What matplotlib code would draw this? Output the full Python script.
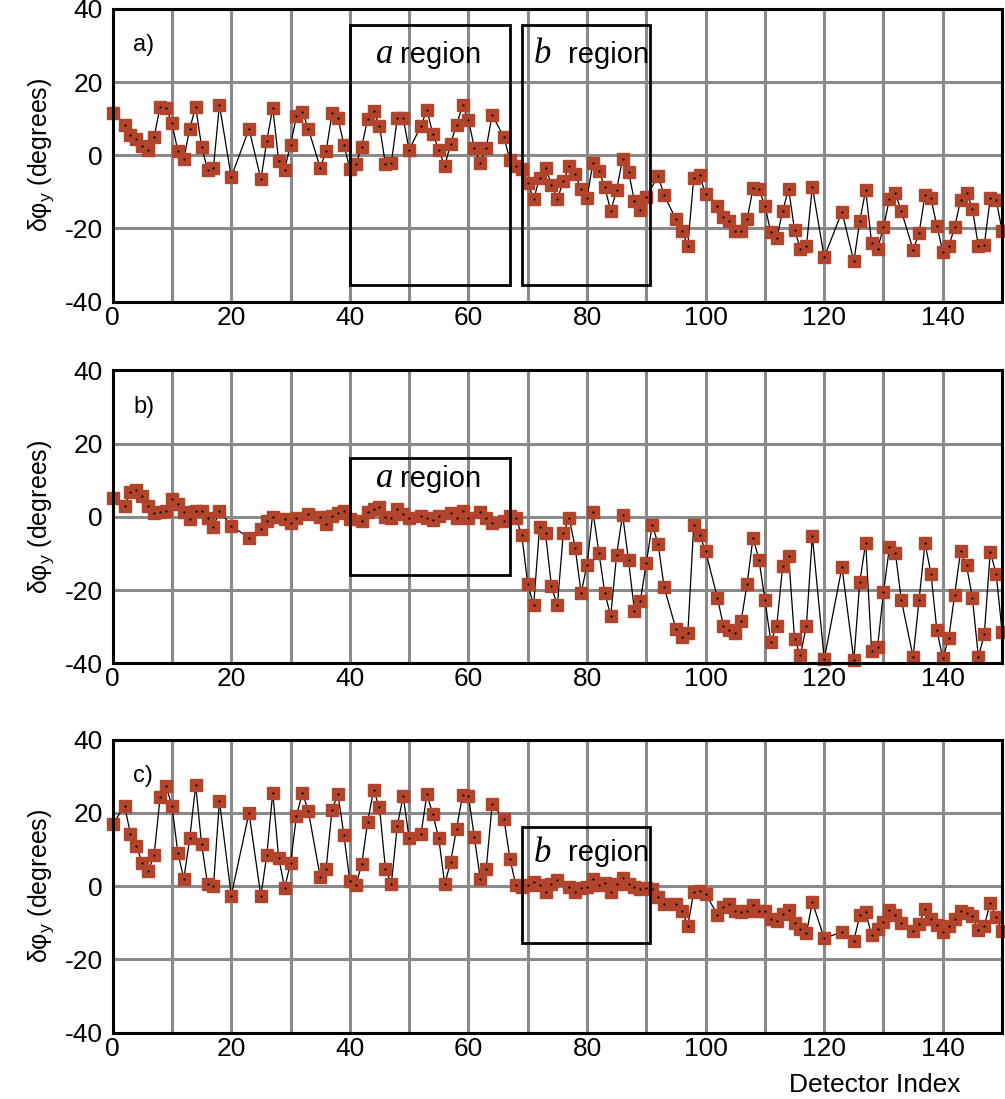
import numpy as np
import matplotlib.pyplot as plt

plt.rcParams['font.family'] = ['Liberation Sans', 'DejaVu Sans']
plt.rcParams['axes.unicode_minus'] = False

# detector index / phase error, panel a)
xa = [0, 2, 3, 4, 5, 6, 7, 8, 9, 10, 11, 12, 13, 14, 15, 16, 17, 18, 20, 23,
      25, 26, 27, 28, 29, 30, 31, 32, 33, 35, 36, 37, 38, 39, 40, 41, 42, 43, 44, 45,
      46, 47, 48, 49, 50, 52, 53, 54, 55, 56, 57, 58, 59, 60, 61, 62, 63, 64, 66, 67,
      68, 69, 70, 71, 72, 73, 74, 75, 76, 77, 78, 79, 80, 81, 82, 83, 84, 85, 86, 87,
      88, 89, 90, 92, 93, 95, 96, 97, 98, 99, 100, 102, 103, 104, 105, 106, 107, 108, 109, 110,
      111, 112, 113, 114, 115, 116, 117, 118, 120, 123, 125, 126, 127, 128, 129, 130, 131, 132, 133, 135,
      136, 137, 138, 139, 140, 141, 142, 143, 144, 145, 146, 147, 148, 149, 150]
ya = [11.5, 8.3, 5.6, 4.3, 2.4, 1.4, 5.0, 13.3, 12.9, 8.8, 1.1, -1.0, 7.2, 13.3, 2.3, -3.9, -3.4, 13.8, -6.0, 7.2,
      -6.6, 4.0, 12.9, -1.6, -3.9, 2.9, 10.6, 11.9, 7.2, -3.4, 1.1, 11.5, 10.1, 2.9, -3.7, -2.5, 2.3, 9.9, 12.1, 8.1,
      -2.4, -2.1, 10.1, 10.1, 1.4, 8.1, 12.4, 5.8, 1.5, -3.0, 3.2, 8.3, 13.6, 9.7, 2.0, -2.1, 2.0, 11.0, 4.9, -1.4,
      -3.0, -3.7, -7.5, -12.0, -6.2, -3.4, -8.0, -12.0, -7.1, -3.0, -5.2, -9.3, -11.6, -2.1, -4.3, -8.7, -15.2, -9.5, -0.9, -4.5,
      -12.5, -14.9, -11.3, -5.7, -10.9, -17.5, -20.6, -24.7, -6.2, -5.4, -10.7, -13.8, -17.0, -17.9, -20.6, -20.6, -17.5, -9.0, -9.3, -13.8,
      -21.1, -22.7, -15.2, -9.2, -20.4, -25.6, -24.9, -8.6, -27.9, -15.4, -29.0, -17.9, -9.5, -24.0, -25.6, -19.7, -11.9, -10.4, -15.2, -25.8,
      -21.3, -10.9, -11.8, -19.3, -26.3, -24.9, -19.7, -12.2, -10.2, -14.6, -24.9, -24.5, -11.8, -12.2, -20.6]

# panel b)
xb = [0, 2, 3, 4, 5, 6, 7, 8, 9, 10, 11, 12, 13, 14, 15, 16, 17, 18, 20, 23,
      25, 26, 27, 29, 30, 31, 33, 35, 36, 37, 38, 39, 40, 42, 43, 44, 45, 46, 47, 48,
      49, 50, 52, 53, 54, 55, 57, 58, 59, 60, 62, 63, 64, 66, 67, 68, 69, 70, 71, 72,
      73, 74, 75, 76, 77, 78, 79, 80, 81, 82, 83, 84, 85, 86, 87, 88, 89, 90, 91, 92,
      93, 95, 96, 97, 98, 99, 100, 102, 103, 104, 105, 106, 107, 108, 109, 110, 111, 112, 113, 114,
      115, 116, 117, 118, 120, 123, 125, 126, 127, 128, 129, 130, 131, 132, 133, 135, 136, 137, 138, 139,
      140, 141, 142, 143, 144, 145, 146, 147, 148, 149, 150]
yb = [5.0, 3.0, 6.7, 7.2, 5.8, 3.0, 1.0, 1.2, 1.7, 4.9, 3.5, 1.2, -0.6, 1.7, 1.7, -0.2, -2.9, 1.7, -2.5, -5.7,
      -3.4, -1.1, 0.0, -0.6, -1.6, -0.4, 0.7, 0.0, -2.0, 0.3, 1.0, 1.7, -0.6, -1.1, 1.2, 2.1, 2.6, 0.0, -0.2, 2.1,
      0.7, -0.4, 0.3, -0.2, -0.8, 0.3, 1.0, -0.2, 1.7, -0.4, 1.4, -0.2, -1.8, -1.1, 0.3, -0.2, -5.0, -18.3, -24.2, -2.7,
      -4.5, -19.0, -24.2, -4.5, -0.4, -8.4, -20.8, -13.2, 1.4, -9.8, -20.8, -27.0, -10.3, 0.6, -11.9, -25.7, -22.9, -12.6, -2.2, -7.5,
      -19.2, -30.6, -32.8, -31.8, -2.2, -5.0, -9.4, -22.2, -29.7, -30.9, -31.8, -28.4, -18.3, -5.7, -11.7, -22.7, -34.1, -29.7, -13.5, -10.7,
      -33.4, -37.8, -29.7, -5.2, -38.9, -13.7, -39.2, -17.8, -7.1, -36.7, -35.5, -20.6, -8.3, -9.8, -22.7, -38.3, -22.7, -7.1, -15.5, -30.9,
      -38.7, -33.2, -21.3, -9.4, -13.3, -22.2, -38.3, -32.1, -9.6, -15.5, -31.4]

# panel c)
xc = [0, 2, 3, 4, 5, 6, 7, 8, 9, 10, 11, 12, 13, 14, 15, 16, 17, 18, 20, 23,
      25, 26, 27, 28, 29, 30, 31, 32, 33, 35, 36, 37, 38, 39, 40, 41, 42, 43, 44, 45,
      46, 47, 48, 49, 50, 52, 53, 54, 55, 56, 57, 58, 59, 60, 61, 62, 63, 64, 66, 67,
      68, 69, 70, 71, 72, 73, 74, 75, 77, 78, 79, 80, 81, 82, 83, 84, 85, 86, 87, 88,
      89, 90, 91, 92, 93, 95, 96, 97, 98, 99, 100, 102, 103, 104, 105, 106, 107, 108, 109, 110,
      111, 112, 113, 114, 115, 116, 117, 118, 120, 123, 125, 126, 127, 128, 129, 130, 131, 132, 133, 135,
      136, 137, 138, 139, 140, 141, 142, 143, 144, 145, 146, 147, 148, 149, 150]
yc = [16.9, 21.9, 14.3, 10.9, 6.3, 4.1, 8.6, 24.2, 27.4, 21.8, 9.0, 2.0, 13.0, 27.6, 11.4, 0.6, -0.1, 23.3, -2.6, 20.0,
      -2.8, 8.6, 25.5, 7.8, -0.5, 6.3, 19.1, 25.5, 20.5, 2.5, 4.7, 20.9, 25.1, 13.9, 1.4, 0.2, 5.9, 17.5, 26.2, 21.5,
      4.7, 0.6, 16.4, 24.6, 13.0, 14.2, 25.1, 19.6, 13.0, 0.5, 6.6, 15.7, 24.8, 24.6, 13.4, 2.0, 4.7, 22.4, 18.2, 7.5,
      0.2, -0.3, 0.2, 1.1, 0.2, -1.5, 0.5, 1.6, -0.3, -1.6, -0.5, -0.3, 2.0, 0.2, 0.8, -1.6, 0.6, 2.2, 0.6, -0.3,
      -0.7, -0.5, -0.7, -3.0, -4.8, -5.0, -6.7, -10.8, -1.6, -1.4, -2.1, -7.8, -5.6, -5.0, -6.7, -7.1, -6.7, -5.3, -6.7, -6.7,
      -8.9, -9.6, -7.6, -6.5, -10.1, -11.7, -12.9, -4.4, -14.2, -12.6, -14.9, -8.0, -7.1, -13.5, -11.7, -9.9, -6.5, -7.8, -10.1, -12.3,
      -10.3, -6.2, -8.9, -10.5, -12.6, -10.8, -8.9, -6.7, -7.4, -8.3, -12.0, -10.8, -4.7, -8.5, -12.3]

panels = ['a)', 'b)', 'c)']
series = [(xa, ya), (xb, yb), (xc, yc)]
# (letter, x0, x1, y0, y1) for the boxed regions of each panel
regions = [
    [('a', 40, 67, -35.5, 35.5), ('b', 69, 90.7, -35.5, 35.5)],
    [('a', 40, 67, -16, 16)],
    [('b', 69, 90.7, -15.5, 16)],
]
region_text_y = [27.5, 10.4, 9.0]

fig = plt.figure(figsize=(10.05, 10.99), dpi=100)
bottoms = [0.7255, 0.3965, 0.0605]
mcolor = '#b3442c'

for i in range(3):
    ax = fig.add_axes([0.1121, bottoms[i], 0.885, 0.2665])
    x, y = series[i]
    ax.plot(x, y, '-', color='black', lw=0.9, zorder=3, clip_on=False)
    ax.plot(x, y, 's', color=mcolor, ms=8, mec=mcolor, zorder=4, clip_on=False)
    ax.plot(x, y, '.', color='black', ms=1.2, zorder=5, clip_on=False)
    ax.set_xlim(0, 150)
    ax.set_ylim(-40, 40)
    ax.set_xticks(np.arange(0, 141, 20))
    ax.set_xticks(np.arange(0, 151, 10), minor=True)
    ax.set_yticks([-40, -20, 0, 20, 40])
    ax.grid(True, which='both', color='#8a8a8a', lw=2.2, zorder=0)
    ax.tick_params(which='both', length=0, labelsize=19)
    ax.tick_params(axis='y', pad=7)
    ax.tick_params(axis='x', pad=3)
    for s in ax.spines.values():
        s.set_linewidth(2.2)
        s.set_zorder(6)
    ax.set_ylabel('δφ$_\\mathregular{y}$ (degrees)', fontsize=18, labelpad=6)
    ax.text(3.5, 30, panels[i], fontsize=17, va='center', ha='left')

    for letter, x0, x1, y0, y1 in regions[i]:
        ax.add_patch(plt.Rectangle((x0, y0), x1 - x0, y1 - y0, fill=False,
                                   ec='black', lw=2, zorder=7))
        if letter == 'a':
            lx, rx = x0 + 7.3, x0 + 8.4
        else:
            lx, rx = x0 + 5, x0 + 7.8
        ty = region_text_y[i]
        ax.text(lx, ty, letter, fontsize=25, family='Liberation Serif', style='italic',
                ha='right', va='center', zorder=8)
        ax.text(rx, ty, 'region', fontsize=21, ha='left', va='center', zorder=8)

fig.text(0.87, 0.013, 'Detector Index', fontsize=19, ha='center', va='center')

fig.savefig('out.png', dpi=100)
